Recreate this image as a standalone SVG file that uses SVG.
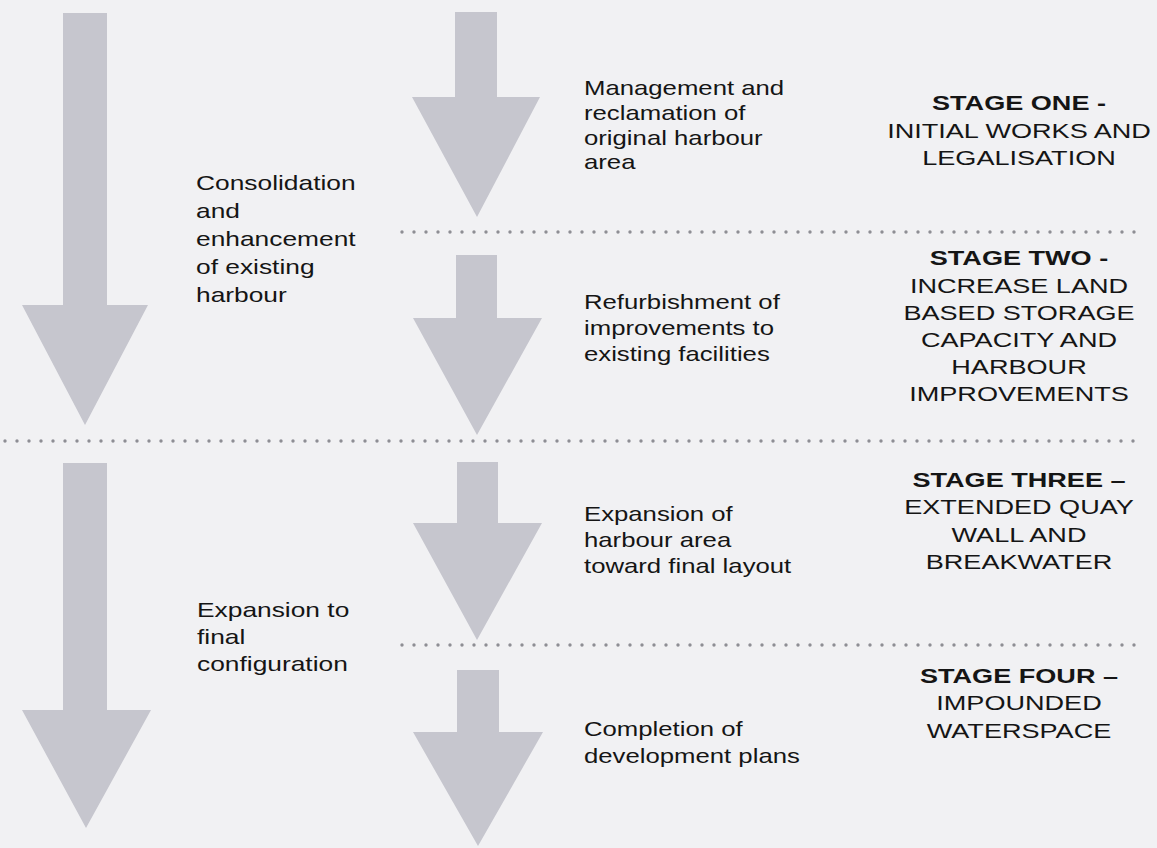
<svg xmlns="http://www.w3.org/2000/svg" width="1157" height="848" viewBox="0 0 1157 848">
  <style>
    .bg { fill: #f1f1f3; }
    .arrow { fill: #c6c6ce; }
    .divider { stroke: #8e8e94; stroke-width: 3.4; stroke-linecap: round; stroke-dasharray: 0 12; fill: none; }
    text { font-family: "Liberation Sans", Arial, sans-serif; font-size: 21px; fill: #151515; }
    .c { text-anchor: middle; }
    .b { font-weight: bold; }
  </style>

  <rect class="bg" x="0" y="0" width="1157" height="848"/>

  <!-- broad phase arrows -->
  <g id="phase-1-arrow">
    <polygon class="arrow" points="63,13 107,13 107,305 148,305 85,425 22,305 63,305"/>
  </g>
  <g id="phase-2-arrow">
    <polygon class="arrow" points="63,463 107,463 107,710 151,710 86,828 22,710 63,710"/>
  </g>

  <!-- stage arrows -->
  <g id="stage-1-arrow">
    <polygon class="arrow" points="455,12 497,12 497,97 540,97 477,217 412,97 455,97"/>
  </g>
  <g id="stage-2-arrow">
    <polygon class="arrow" points="456,255 497,255 497,318 542,318 477,435 413,318 456,318"/>
  </g>
  <g id="stage-3-arrow">
    <polygon class="arrow" points="457,462 498,462 498,523 542,523 477,640 413,523 457,523"/>
  </g>
  <g id="stage-4-arrow">
    <polygon class="arrow" points="457,670 499,670 499,732 543,732 478,846 413,732 457,732"/>
  </g>

  <!-- dotted dividers between stages -->
  <g id="dividers">
    <line class="divider" x1="402" y1="232" x2="1140" y2="232"/>
    <line class="divider" x1="5" y1="441" x2="1134" y2="441"/>
    <line class="divider" x1="402" y1="645" x2="1136" y2="645"/>
  </g>

  <!-- phase descriptions -->
  <g id="phase-1-label" transform="translate(196 0) scale(1.255 1)">
    <text x="0" y="190">Consolidation</text>
    <text x="0" y="218">and</text>
    <text x="0" y="246">enhancement</text>
    <text x="0" y="274">of existing</text>
    <text x="0" y="302">harbour</text>
  </g>
  <g id="phase-2-label" transform="translate(197 0) scale(1.255 1)">
    <text x="0" y="617">Expansion to</text>
    <text x="0" y="644">final</text>
    <text x="0" y="671">configuration</text>
  </g>

  <!-- stage descriptions -->
  <g id="stage-1-desc" transform="translate(584 0) scale(1.225 1)">
    <text x="0" y="95">Management and</text>
    <text x="0" y="120">reclamation of</text>
    <text x="0" y="145">original harbour</text>
    <text x="0" y="169">area</text>
  </g>
  <g id="stage-2-desc" transform="translate(584 0) scale(1.225 1)">
    <text x="0" y="309">Refurbishment of</text>
    <text x="0" y="335">improvements to</text>
    <text x="0" y="361">existing facilities</text>
  </g>
  <g id="stage-3-desc" transform="translate(584 0) scale(1.225 1)">
    <text x="0" y="521">Expansion of</text>
    <text x="0" y="547">harbour area</text>
    <text x="0" y="573">toward final layout</text>
  </g>
  <g id="stage-4-desc" transform="translate(584 0) scale(1.225 1)">
    <text x="0" y="736">Completion of</text>
    <text x="0" y="763">development plans</text>
  </g>

  <!-- stage titles -->
  <g id="stage-1-title" transform="translate(1019 0) scale(1.29 1)">
    <text class="c b" x="0" y="110">STAGE ONE -</text>
    <text class="c" x="0" y="138">INITIAL WORKS AND</text>
    <text class="c" x="0" y="165">LEGALISATION</text>
  </g>
  <g id="stage-2-title" transform="translate(1019 0) scale(1.29 1)">
    <text class="c b" x="0" y="265">STAGE TWO -</text>
    <text class="c" x="0" y="293">INCREASE LAND</text>
    <text class="c" x="0" y="320">BASED STORAGE</text>
    <text class="c" x="0" y="347">CAPACITY AND</text>
    <text class="c" x="0" y="374">HARBOUR</text>
    <text class="c" x="0" y="401">IMPROVEMENTS</text>
  </g>
  <g id="stage-3-title" transform="translate(1019 0) scale(1.29 1)">
    <text class="c b" x="0" y="487">STAGE THREE –</text>
    <text class="c" x="0" y="514">EXTENDED QUAY</text>
    <text class="c" x="0" y="542">WALL AND</text>
    <text class="c" x="0" y="569">BREAKWATER</text>
  </g>
  <g id="stage-4-title" transform="translate(1019 0) scale(1.29 1)">
    <text class="c b" x="0" y="683">STAGE FOUR –</text>
    <text class="c" x="0" y="710">IMPOUNDED</text>
    <text class="c" x="0" y="738">WATERSPACE</text>
  </g>
</svg>
